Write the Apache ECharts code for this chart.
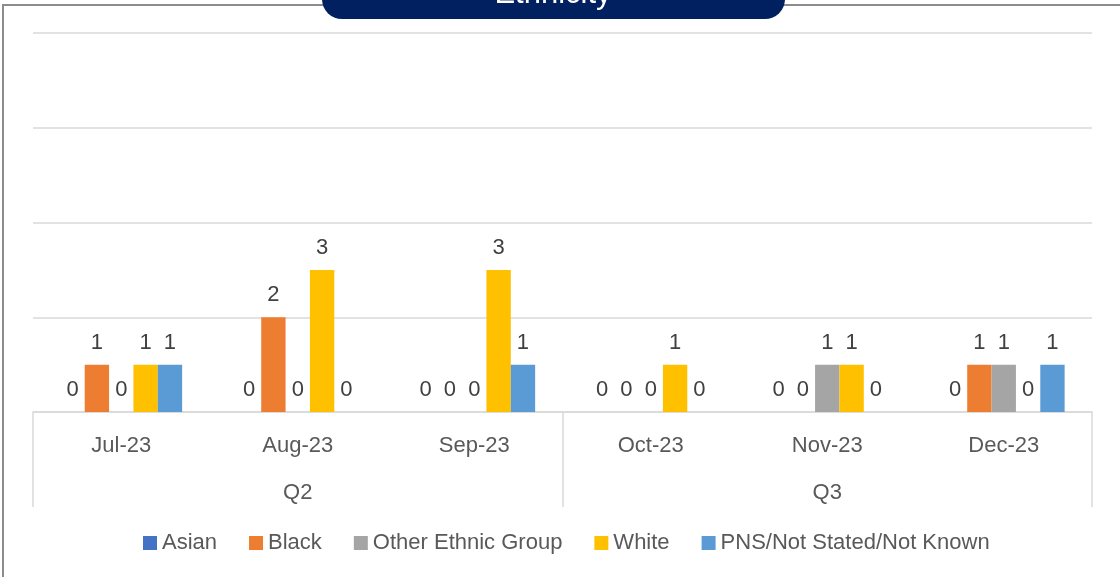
<!DOCTYPE html>
<html>
<head>
<meta charset="utf-8">
<script src="https://cdn.jsdelivr.net/npm/echarts@6/dist/echarts.min.js"></script>
<style>
  html, body { margin: 0; padding: 0; background: #fff; }
  #frame {
    position: absolute; left: 2px; top: 4px; width: 1200px; height: 700px;
    border: 2px solid #8c8c8c; box-sizing: border-box;
  }
  #chart { position: absolute; left: 0; top: 0; width: 1120px; height: 577px; z-index: 1; }
</style>
</head>
<body>
<div id="frame"></div>
<div id="chart"></div>
<script>
const months = ["Jul-23", "Aug-23", "Sep-23", "Oct-23", "Nov-23", "Dec-23"];
const quarters = ["Q2", "Q3"];
const asian = [0, 0, 0, 0, 0, 0];
const black = [1, 2, 0, 0, 0, 1];
const otherGroup = [0, 0, 0, 0, 1, 1];
const white = [1, 3, 3, 1, 1, 0];
const pns = [1, 0, 1, 0, 0, 1];

const font = "'Liberation Sans', Arial, sans-serif";

const seriesDefs = [
  { name: "Asian", data: asian, color: "#4472C4" },
  { name: "Black", data: black, color: "#ED7D31" },
  { name: "Other Ethnic Group", data: otherGroup, color: "#A5A5A5" },
  { name: "White", data: white, color: "#FFC000" },
  { name: "PNS/Not Stated/Not Known", data: pns, color: "#5B9BD5" },
];

const chart = echarts.init(document.getElementById("chart"));
chart.setOption({
  backgroundColor: "transparent",
  animation: false,
  textStyle: { fontFamily: font },
  graphic: [
    {
      type: "rect",
      shape: { x: 322, y: -40, width: 463, height: 59, r: 20 },
      style: { fill: "#002060" },
    },
    {
      type: "text",
      x: 553, y: -6,
      style: {
        text: "Ethnicity", fill: "#fff", font: "31px " + font,
        align: "center", verticalAlign: "middle",
      },
    },
  ],
  legend: {
    bottom: 18,
    left: 138,
    itemWidth: 14,
    itemHeight: 14,
    itemGap: 32,
    icon: "rect",
    textStyle: { color: "#595959", fontSize: 22, fontFamily: font },
  },
  grid: { left: 33, right: 28, top: 33, bottom: 165 },
  xAxis: [
    {
      type: "category",
      data: months,
      axisLine: { show: true, lineStyle: { color: "#d9d9d9", width: 1.5 } },
      axisTick: { show: false },
      axisLabel: { color: "#595959", fontSize: 22, margin: 23 },
    },
    {
      type: "category",
      data: quarters,
      position: "bottom",
      axisLine: { show: false },
      axisTick: { show: true, length: 95, lineStyle: { color: "#d9d9d9", width: 1.5 } },
      axisLabel: { color: "#595959", fontSize: 22, margin: 70 },
    },
  ],
  yAxis: {
    type: "value",
    min: 0,
    max: 8,
    interval: 2,
    axisLabel: { show: false },
    axisLine: { show: false },
    axisTick: { show: false },
    splitLine: { lineStyle: { color: "#d9d9d9", width: 1.5 } },
  },
  series: seriesDefs.map((s) => ({
    name: s.name,
    type: "bar",
    xAxisIndex: 0,
    data: s.data,
    barGap: "0%",
    barCategoryGap: "31%",
    itemStyle: { color: s.color },
    label: {
      show: true,
      position: "top",
      distance: 11,
      color: "#404040",
      fontSize: 22,
    },
  })),
});
</script>
</body>
</html>
